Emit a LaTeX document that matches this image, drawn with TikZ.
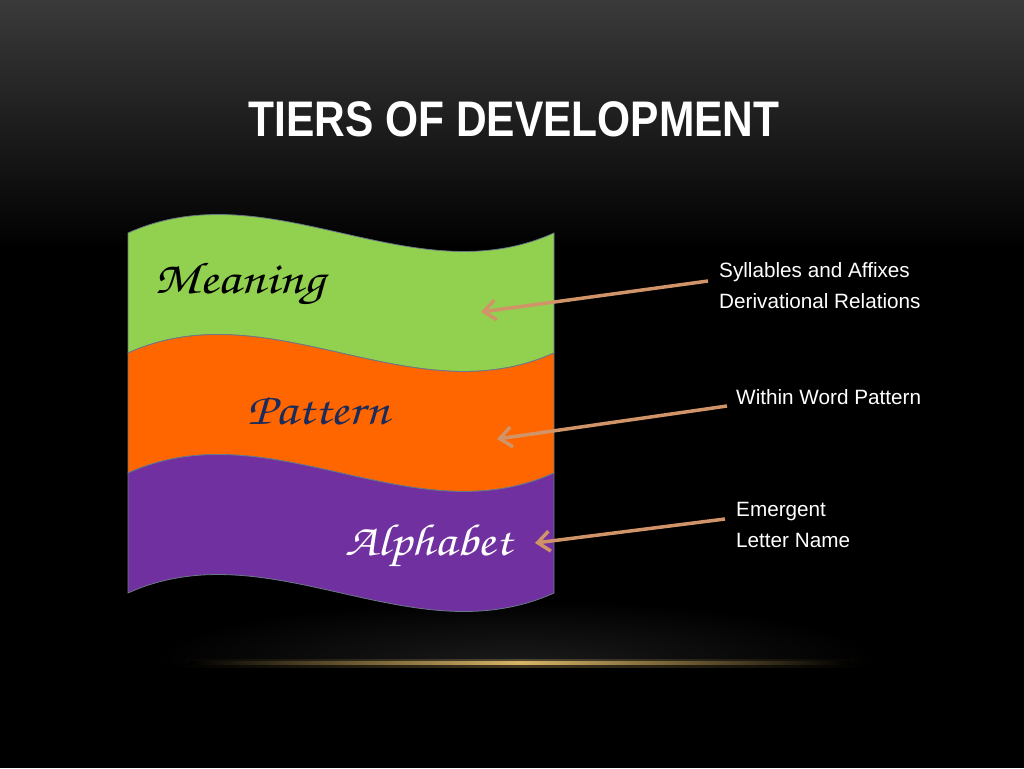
\documentclass[tikz,border=0pt]{standalone}
\usepackage{fontspec}
\setmainfont{Liberation Sans}
\newfontfamily\hand{texgyrechorus-mediumitalic.otf}
\usetikzlibrary{arrows.meta}
\definecolor{tgreen}{HTML}{92D050}
\definecolor{torange}{HTML}{FF6600}
\definecolor{tpurple}{HTML}{7030A0}
\definecolor{tarrow}{HTML}{D09468}
\definecolor{tnavy}{HTML}{1B2C5C}
\definecolor{tgold}{HTML}{D8B466}
\definecolor{tedge}{HTML}{6A7888}
\definecolor{ttop}{HTML}{3A3A3A}
\definecolor{tglow}{HTML}{1A1A1A}
\begin{document}
\begin{tikzpicture}[x=1pt,y=-1pt,
  band/.style={draw=tedge, line width=0.8pt},
  side/.style={font=\fontsize{20.7}{31}\selectfont, text=white, align=left, anchor=base west, inner sep=0pt},
  tier/.style={font=\hand\fontsize{45}{45}\selectfont, anchor=base west, inner sep=0pt},
  pointer/.style={draw=tarrow, line width=3.5pt, -{Straight Barb[length=12pt,width=20pt]}}]
\useasboundingbox (0,0) rectangle (1024,768);
% background
\fill[black] (0,0) rectangle (1024,768);
\shade[top color=ttop, bottom color=black] (0,0) rectangle (1024,250);
\begin{scope}
  \clip (0,0) rectangle (1024,662);
  \shade[inner color=tglow, outer color=black] (150,600) rectangle (880,724);
\end{scope}
% golden line
\shade[left color=black, right color=black, middle color=tgold, opacity=0.3] (170,659) rectangle (870,667);
\shade[left color=black, right color=black, middle color=tgold] (190,661.5) rectangle (850,664.5);
% title
\node[anchor=base, text=white, inner sep=0pt] (title) at (514,136)
  {\scalebox{0.85}[1]{\fontsize{50}{50}\selectfont\bfseries TIERS OF DEVELOPMENT}};
% bands
\path[band, fill=tgreen] (128,233) .. controls (270,169) and (412,297) .. (554,233)
  -- (554,353) .. controls (412,417) and (270,289) .. (128,353) -- cycle;
\path[band, fill=torange] (128,353) .. controls (270,289) and (412,417) .. (554,353)
  -- (554,473) .. controls (412,537) and (270,409) .. (128,473) -- cycle;
\path[band, fill=tpurple] (128,473) .. controls (270,409) and (412,537) .. (554,473)
  -- (554,593) .. controls (412,657) and (270,529) .. (128,593) -- cycle;
% tier labels
\node[tier, text=black] (meaning) at (154,293) {\scalebox{1.2}[1]{Meaning}};
\node[tier, text=tnavy] (pattern) at (247,424) {\scalebox{1.16}[1]{Pattern}};
\node[tier, text=white] (alphabet) at (345,555) {\scalebox{1.14}[1]{Alphabet}};
% side texts
\node[side] (syl) at (719,308) {Syllables and Affixes\\Derivational Relations};
\node[side] (wwp) at (736,404) {Within Word Pattern};
\node[side] (eln) at (736,547) {Emergent\\Letter Name};
% arrows
\coordinate (s1) at (708,281);
\coordinate (t1) at (481,312);
\coordinate (s2) at (727,406);
\coordinate (t2) at (497,439);
\coordinate (s3) at (725,519);
\coordinate (t3) at (535,543);
\draw[pointer] (s1) -- (t1);
\draw[pointer] (s2) -- (t2);
\draw[pointer] (s3) -- (t3);
\end{tikzpicture}
\end{document}
